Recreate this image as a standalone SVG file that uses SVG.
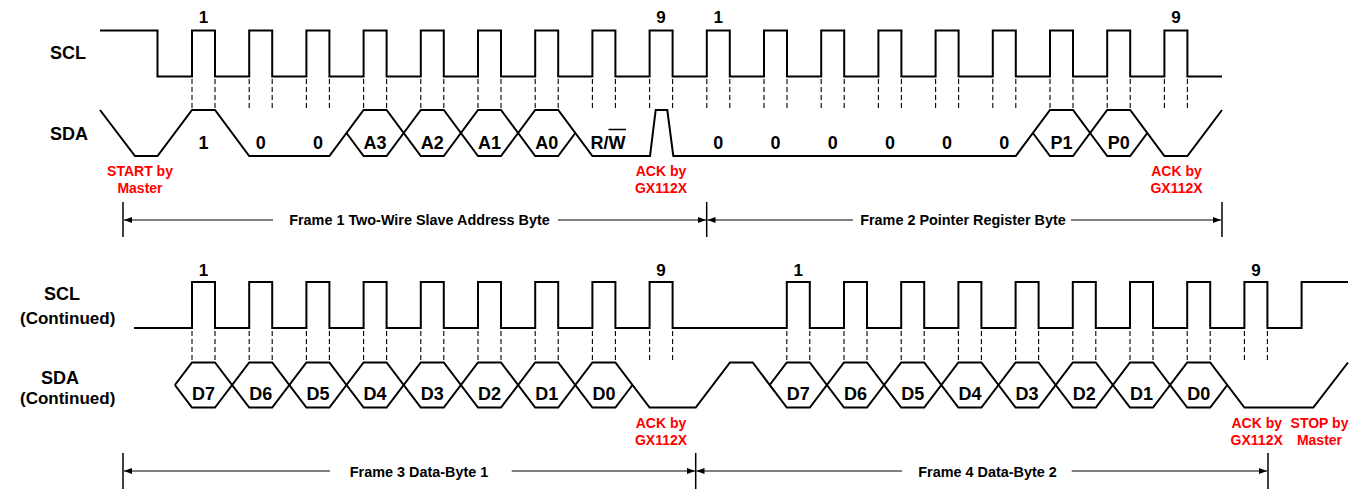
<svg xmlns="http://www.w3.org/2000/svg" width="1365" height="489" viewBox="0 0 1365 489">
<style>
.sig{fill:none;stroke:#000;stroke-width:2;stroke-linejoin:miter}
.dash{fill:none;stroke:#000;stroke-width:1.1;stroke-dasharray:5,3}
.arr{fill:none;stroke:#000;stroke-width:1}
.tick{fill:none;stroke:#000;stroke-width:1.5}
text{font-family:"Liberation Sans",Arial,sans-serif;font-weight:bold}
.name{font-size:18px;fill:#000}
.cont{font-size:17px;fill:#000}
.num{font-size:17px;fill:#000;text-anchor:middle}
.bit{font-size:18px;fill:#000;text-anchor:middle}
.red{font-size:14px;fill:#FF0000;text-anchor:middle}
.frame{font-size:14.4px;fill:#000;text-anchor:middle}
</style>
<defs>
<marker id="ah" viewBox="0 0 8 6" refX="8" refY="3" markerWidth="8" markerHeight="6" markerUnits="userSpaceOnUse" orient="auto">
<path d="M0,0 L8,3 L0,6 Z" fill="#000"/>
</marker>
</defs>
<rect width="1365" height="489" fill="#fff"/>

<g id="signal-names">
<text class="name" x="50" y="59">SCL</text>
<text class="name" x="50" y="139.5">SDA</text>
<text class="name" x="44" y="300">SCL</text>
<text class="cont" x="20" y="323.5">(Continued)</text>
<text class="name" x="41" y="383.5">SDA</text>
<text class="cont" x="20" y="404">(Continued)</text>
</g>

<g id="scl-top">
<path class="sig" d="M100,30.5 H157.5 V76.5 H192 V30.5 H215 V76.5 H249.2 V30.5 H272.2 V76.5 H306.4 V30.5 H329.4 V76.5 H363.6 V30.5 H386.6 V76.5 H420.8 V30.5 H443.8 V76.5 H478 V30.5 H501 V76.5 H535.2 V30.5 H558.2 V76.5 H592.4 V30.5 H615.4 V76.5 H649.6 V30.5 H672.6 V76.5 H706.8 V30.5 H729.8 V76.5 H764 V30.5 H787 V76.5 H821.2 V30.5 H844.2 V76.5 H878.4 V30.5 H901.4 V76.5 H935.6 V30.5 H958.6 V76.5 H992.8 V30.5 H1015.8 V76.5 H1050 V30.5 H1073 V76.5 H1107.2 V30.5 H1130.2 V76.5 H1164.4 V30.5 H1187.4 V76.5 H1222"/>
<text class="num" x="203.5" y="23">1</text>
<text class="num" x="661.1" y="23">9</text>
<text class="num" x="718.3" y="23">1</text>
<text class="num" x="1175.9" y="23">9</text>
</g>

<g id="guides-top">
<path class="dash" d="M192,79V110M215,79V110M249.2,79V110M272.2,79V110M306.4,79V110M329.4,79V110M363.6,79V110M386.6,79V110M420.8,79V110M443.8,79V110M478,79V110M501,79V110M535.2,79V110M558.2,79V110M592.4,79V110M615.4,79V110M649.6,79V110M672.6,79V110M706.8,79V110M729.8,79V110M764,79V110M787,79V110M821.2,79V110M844.2,79V110M878.4,79V110M901.4,79V110M935.6,79V110M958.6,79V110M992.8,79V110M1015.8,79V110M1050,79V110M1073,79V110M1107.2,79V110M1130.2,79V110M1164.4,79V110M1187.4,79V110"/>
</g>

<g id="sda-top">
<path class="sig" d="M100,110 L135,156 H157.5 L192,110 H215 L249.2,156 H329.4 L363.6,110 H386.6 L420.8,156 H443.8 L478,110 H501 L535.2,156 H558.2 L575.3,133"/>
<path class="sig" d="M346.5,133 L363.6,156 H386.6 L420.8,110 H443.8 L478,156 H501 L535.2,110 H558.2 L592.4,156 H650 L655.7,110 H667.3 L673.3,156 H1015.8 L1050,110 H1073 L1107.2,156 H1130.2 L1147.3,133"/>
<path class="sig" d="M1032.9,133 L1050,156 H1073 L1107.2,110 H1130.2 L1164.4,156 H1187.4 L1222,110"/>
<text class="bit" x="203.5" y="149">1</text>
<text class="bit" x="260.7" y="149">0</text>
<text class="bit" x="317.9" y="149">0</text>
<text class="bit" x="375.1" y="149">A3</text>
<text class="bit" x="432.3" y="149">A2</text>
<text class="bit" x="489.5" y="149">A1</text>
<text class="bit" x="546.7" y="149">A0</text>
<text class="bit" x="608" y="149">R/W</text>
<line x1="608.5" y1="129.5" x2="626" y2="129.5" stroke="#000" stroke-width="1.5"/>
<text class="bit" x="718.3" y="149">0</text>
<text class="bit" x="775.5" y="149">0</text>
<text class="bit" x="832.7" y="149">0</text>
<text class="bit" x="889.9" y="149">0</text>
<text class="bit" x="947.1" y="149">0</text>
<text class="bit" x="1004.3" y="149">0</text>
<text class="bit" x="1061.5" y="149">P1</text>
<text class="bit" x="1118.7" y="149">P0</text>
</g>

<g id="notes-top">
<text class="red" x="140" y="175.7">START by</text>
<text class="red" x="140" y="193.3">Master</text>
<text class="red" x="661" y="175.7">ACK by</text>
<text class="red" x="661" y="193.3">GX112X</text>
<text class="red" x="1176.5" y="175.7">ACK by</text>
<text class="red" x="1176.5" y="193.3">GX112X</text>
</g>

<g id="scl-bottom">
<path class="sig" d="M134,328 H192 V282 H215 V328 H249.2 V282 H272.2 V328 H306.4 V282 H329.4 V328 H363.6 V282 H386.6 V328 H420.8 V282 H443.8 V328 H478 V282 H501 V328 H535.2 V282 H558.2 V328 H592.4 V282 H615.4 V328 H649.6 V282 H672.6 V328 H786.8 V282 H809.8 V328 H844 V282 H867 V328 H901.2 V282 H924.2 V328 H958.4 V282 H981.4 V328 H1015.6 V282 H1038.6 V328 H1072.8 V282 H1095.8 V328 H1130 V282 H1153 V328 H1187.2 V282 H1210.2 V328 H1244.4 V282 H1267.4 V328 H1301.6 V282 H1348"/>
<text class="num" x="203.5" y="276">1</text>
<text class="num" x="661.1" y="276">9</text>
<text class="num" x="798.3" y="276">1</text>
<text class="num" x="1255.9" y="276">9</text>
</g>

<g id="guides-bottom">
<path class="dash" d="M192,331V362.5M215,331V362.5M249.2,331V362.5M272.2,331V362.5M306.4,331V362.5M329.4,331V362.5M363.6,331V362.5M386.6,331V362.5M420.8,331V362.5M443.8,331V362.5M478,331V362.5M501,331V362.5M535.2,331V362.5M558.2,331V362.5M592.4,331V362.5M615.4,331V362.5M649.6,331V362.5M672.6,331V362.5M786.8,331V362.5M809.8,331V362.5M844,331V362.5M867,331V362.5M901.2,331V362.5M924.2,331V362.5M958.4,331V362.5M981.4,331V362.5M1015.6,331V362.5M1038.6,331V362.5M1072.8,331V362.5M1095.8,331V362.5M1130,331V362.5M1153,331V362.5M1187.2,331V362.5M1210.2,331V362.5M1244.4,331V362.5M1267.4,331V362.5"/>
</g>

<g id="sda-bottom">
<path class="sig" d="M174.9,385 L192,362.5 H215 L249.2,407.5 H272.2 L306.4,362.5 H329.4 L363.6,407.5 H386.6 L420.8,362.5 H443.8 L478,407.5 H501 L535.2,362.5 H558.2 L592.4,407.5 H615.4 L632.5,385"/>
<path class="sig" d="M174.9,385 L192,407.5 H215 L249.2,362.5 H272.2 L306.4,407.5 H329.4 L363.6,362.5 H386.6 L420.8,407.5 H443.8 L478,362.5 H501 L535.2,407.5 H558.2 L592.4,362.5 H615.4 L649.6,407.5 H695.7 L730,362.5 H752.7 L786.8,407.5 H809.8 L844,362.5 H867 L901.2,407.5 H924.2 L958.4,362.5 H981.4 L1015.6,407.5 H1038.6 L1072.8,362.5 H1095.8 L1130,407.5 H1153 L1187.2,362.5 H1210.2 L1244.4,407.5 H1313.3 L1348,362.5"/>
<path class="sig" d="M769.7,385 L786.8,362.5 H809.8 L844,407.5 H867 L901.2,362.5 H924.2 L958.4,407.5 H981.4 L1015.6,362.5 H1038.6 L1072.8,407.5 H1095.8 L1130,362.5 H1153 L1187.2,407.5 H1210.2 L1227.3,385"/>
<text class="bit" x="203.5" y="400">D7</text>
<text class="bit" x="260.7" y="400">D6</text>
<text class="bit" x="317.9" y="400">D5</text>
<text class="bit" x="375.1" y="400">D4</text>
<text class="bit" x="432.3" y="400">D3</text>
<text class="bit" x="489.5" y="400">D2</text>
<text class="bit" x="546.7" y="400">D1</text>
<text class="bit" x="603.9" y="400">D0</text>
<text class="bit" x="798.3" y="400">D7</text>
<text class="bit" x="855.5" y="400">D6</text>
<text class="bit" x="912.7" y="400">D5</text>
<text class="bit" x="969.9" y="400">D4</text>
<text class="bit" x="1027.1" y="400">D3</text>
<text class="bit" x="1084.3" y="400">D2</text>
<text class="bit" x="1141.5" y="400">D1</text>
<text class="bit" x="1198.7" y="400">D0</text>
</g>

<g id="notes-bottom">
<text class="red" x="661" y="428.3">ACK by</text>
<text class="red" x="661" y="445">GX112X</text>
<text class="red" x="1256.7" y="428.3">ACK by</text>
<text class="red" x="1256.7" y="445">GX112X</text>
<text class="red" x="1319.5" y="428.3">STOP by</text>
<text class="red" x="1319.5" y="445">Master</text>
</g>

<g id="connectors">
<line class="tick" x1="123" y1="202" x2="123" y2="237"/>
<line class="tick" x1="706.7" y1="202" x2="706.7" y2="237"/>
<line class="tick" x1="1222" y1="202" x2="1222" y2="237"/>
<line class="arr" x1="273" y1="220" x2="124" y2="220" marker-end="url(#ah)"/>
<line class="arr" x1="558" y1="220" x2="706" y2="220" marker-end="url(#ah)"/>
<line class="arr" x1="853" y1="220" x2="707.5" y2="220" marker-end="url(#ah)"/>
<line class="arr" x1="1071" y1="220" x2="1221" y2="220" marker-end="url(#ah)"/>
<line class="tick" x1="123" y1="453" x2="123" y2="489"/>
<line class="tick" x1="695.7" y1="453" x2="695.7" y2="489"/>
<line class="tick" x1="1268" y1="453" x2="1268" y2="489"/>
<line class="arr" x1="330" y1="471" x2="124" y2="471" marker-end="url(#ah)"/>
<line class="arr" x1="511.7" y1="471" x2="695" y2="471" marker-end="url(#ah)"/>
<line class="arr" x1="902" y1="471" x2="696.5" y2="471" marker-end="url(#ah)"/>
<line class="arr" x1="1071.7" y1="471" x2="1267" y2="471" marker-end="url(#ah)"/>
</g>

<g id="frame-labels">
<text class="frame" x="419.5" y="225">Frame 1 Two-Wire Slave Address Byte</text>
<text class="frame" x="963" y="225">Frame 2 Pointer Register Byte</text>
<text class="frame" x="419" y="476.5">Frame 3 Data-Byte 1</text>
<text class="frame" x="987.5" y="476.5">Frame 4 Data-Byte 2</text>
</g>
</svg>
